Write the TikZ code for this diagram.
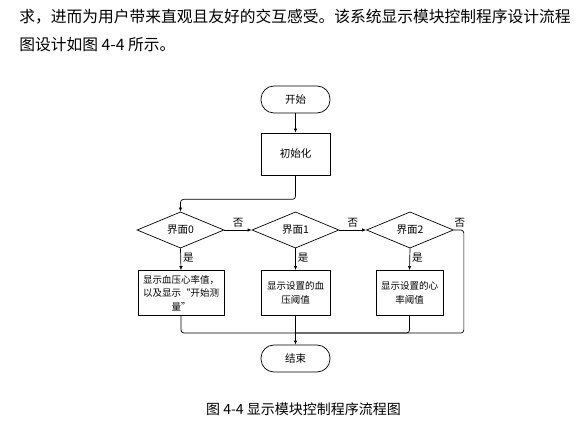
\documentclass[tikz,border=0pt]{standalone}
\usepackage{fontspec}
\setmainfont{Noto Sans CJK SC}
\usetikzlibrary{shapes.geometric,arrows.meta,positioning}

\begin{document}
\begin{tikzpicture}[x=1pt, y=-1pt, line width=0.7pt,
  >={Latex[length=4pt,width=3.5pt]},
  term/.style={draw, rounded corners=13pt, minimum width=69pt, minimum height=27pt, font=\fontsize{10.5}{12}\selectfont},
  proc/.style={draw, minimum width=69pt, minimum height=42pt, font=\fontsize{10.5}{12}\selectfont},
  choice/.style={draw, diamond, minimum width=87pt, minimum height=36pt, inner sep=0pt, font=\fontsize{10.5}{12}\selectfont},
  disp/.style={draw, minimum height=45pt, align=center, inner sep=1pt, font=\fontsize{9.5}{13.5}\selectfont},
  lbl/.style={font=\fontsize{10.5}{12}\selectfont, inner sep=2pt}]
\useasboundingbox (0,0) rectangle (587,433);
\node [anchor=west, inner sep=0pt, font=\fontsize{15.75}{18}\selectfont] (line1) at (19,17)
  {求，进而为用户带来直观且友好的交互感受。该系统显示模块控制程序设计流程};
\node [anchor=west, inner sep=0pt, font=\fontsize{15.75}{18}\selectfont] (line2) at (19,45)
  {图设计如图 4-4 所示。};
\node [term] (start) at (295.5, 99.5) {开始};
\node [proc] (init) at (295.5, 154) {初始化};
\foreach \i/\x in {0/180.5, 1/295.5, 2/410} {
	\node [choice] (d\i) at (\x, 230) {界面\i};
}
\node [disp, minimum width=86pt] (b0) at (181, 293) {显示血压心率值，\\以及显示“开始测\\量”};
\node [disp, minimum width=69pt] (b1) at (295.5, 293) {显示设置的血\\压阈值};
\node [disp, minimum width=67pt] (b2) at (409.5, 293) {显示设置的心\\率阈值};
\node [term] (end) at (295.5, 358.5) {结束};
\coordinate (merge) at (295.5, 333);
\draw [->] (start) -- (init);
\draw [->, rounded corners=3pt] (init.south) -- ++(0, 24) -| (d0.north);
\draw [->] (d0.east) -- node [lbl, above] {否} (d1.west);
\draw [->] (d1.east) -- node [lbl, above] {否} (d2.west);
\foreach \i in {0, 1, 2} {
	\draw [->] (d\i.south) -- node [lbl, right, pos=0.45] {是} (b\i.north);
}
\draw [rounded corners=3pt] (d2.east) -- node [lbl, above, pos=0.6] {否} ++(10, 0) |- (merge);
\draw [rounded corners=3pt] (b0.south) |- (merge);
\draw [rounded corners=3pt] (b2.south) |- (merge);
\draw [->] (b1.south) -- (end.north);
\node [font=\fontsize{14}{16}\selectfont] (caption) at (303.5, 409) {图 4-4 显示模块控制程序流程图};
\end{tikzpicture}
\end{document}
